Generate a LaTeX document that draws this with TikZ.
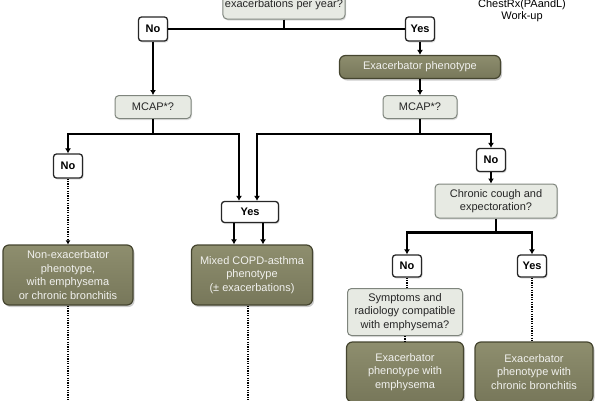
\documentclass[tikz,border=0pt]{standalone}
\usepackage{fontspec}
\setmainfont{Liberation Sans}
\usetikzlibrary{arrows.meta}
\usetikzlibrary{shadows}
\definecolor{olivebox}{HTML}{77775A}
\definecolor{olivetop}{HTML}{8E8E6E}
\definecolor{oliveedge}{HTML}{45452F}
\definecolor{askfill}{HTML}{E7EAE3}
\definecolor{askedge}{HTML}{7F857D}

\begin{document}
\begin{tikzpicture}[x=1pt, y=-1pt,
    every node/.style={font=\fontsize{11}{13.5}\selectfont, align=center, inner sep=2pt},
    ask/.style={draw=askedge, line width=1pt, fill=askfill, rounded corners=4pt, text=black!85,
      drop shadow={opacity=0.25, shadow xshift=1pt, shadow yshift=-1.5pt}},
    reply/.style={draw=black!85, line width=1.3pt, fill=white, rounded corners=3pt,
      font=\fontsize{11}{12}\selectfont\bfseries, minimum width=29pt, minimum height=24pt,
      drop shadow={opacity=0.25, shadow xshift=1pt, shadow yshift=-1.5pt}},
    pheno/.style={draw=oliveedge, line width=1.2pt, top color=olivetop, bottom color=olivebox,
      rounded corners=6pt, text=white!90!olivebox,
      drop shadow={opacity=0.4, shadow xshift=1.5pt, shadow yshift=-2pt}},
    flow/.style={line width=2.4pt, -{Latex[length=5pt,width=6pt]}},
    bar/.style={line width=2.4pt},
    dots/.style={line width=2.6pt, dash pattern=on 1.2pt off 1.2pt}]
  \useasboundingbox (0,0) rectangle (600,400);
  \clip (0,0) rectangle (600,400);

  % first question, cut at the top
  \node[ask, minimum width=122pt, minimum height=34pt] (often) at (284,2) {\mbox{}\\exacerbations per year?};
  \node[font=\fontsize{11}{12}\selectfont] (source) at (522,11) {ChestRx(PAandL)\\Work-up};

  % answers and second questions
  \node[reply] (no1) at (153,29) {No};
  \node[reply] (yes1) at (420,29) {Yes};
  \node[pheno, minimum width=161pt, minimum height=23pt] (exacpheno) at (420,67) {Exacerbator phenotype};
  \node[ask, minimum width=76pt, minimum height=23pt] (mcapL) at (153,107) {MCAP*?};
  \node[ask, minimum width=74pt, minimum height=23pt] (mcapR) at (420,107) {MCAP*?};

  \node[reply] (no2) at (68,166) {No};
  \node[reply, minimum width=57pt, minimum height=21pt] (yes2) at (250,212) {Yes};
  \node[reply, minimum height=23pt] (no3) at (491,160) {No};
  \node[ask, minimum width=122pt, minimum height=34pt] (cough) at (496,201) {Chronic cough and\\expectoration?};
  \node[reply, minimum height=22pt] (no4) at (407,266) {No};
  \node[reply, minimum height=22pt] (yes4) at (532,266) {Yes};
  \node[ask, minimum width=115pt, minimum height=47pt] (emphq) at (405,312) {Symptoms and\\radiology compatible\\with emphysema?};

  % phenotypes
  \node[pheno, minimum width=130pt, minimum height=60pt] (nonexac) at (68,275) {Non-exacerbator\\phenotype,\\with emphysema\\or chronic bronchitis};
  \node[pheno, minimum width=121pt, minimum height=60pt] (mixed) at (252,275) {Mixed COPD-asthma\\phenotype\\(± exacerbations)};
  \node[pheno, minimum width=117pt, minimum height=60pt] (exacemph) at (405,372) {Exacerbator\\phenotype with\\emphysema};
  \node[pheno, minimum width=118pt, minimum height=60pt] (exacbron) at (534,372) {Exacerbator\\phenotype with\\chronic bronchitis};

  % connectors
  \draw[bar] (often.south) -- (often.south |- no1.east);
  \draw[bar] (no1.east) -- (yes1.west);
  \draw[flow] (no1.south) -- (mcapL.north);
  \draw[flow] (yes1.south) -- (exacpheno.north);
  \draw[flow] (exacpheno.south) -- (mcapR.north);

  \coordinate (forkL) at ([yshift=-15pt]mcapL.south);
  \draw[bar] (mcapL.south) -- (forkL);
  \draw[flow] (forkL) -| (no2.north);
  \draw[flow] (forkL) -| ([xshift=-11pt]yes2.north);

  \coordinate (forkR) at ([yshift=-15pt]mcapR.south);
  \draw[bar] (mcapR.south) -- (forkR);
  \draw[flow] (forkR) -| ([xshift=7pt]yes2.north);
  \draw[flow] (forkR) -| (no3.north);

  \draw[flow] ([xshift=-16pt]yes2.south) -- ([xshift=-16pt]yes2.south |- mixed.north);
  \draw[flow] ([xshift=13pt]yes2.south) -- ([xshift=13pt]yes2.south |- mixed.north);

  \draw[flow] (no3.south) -- (no3.south |- cough.north);
  \coordinate (forkC) at ([yshift=-14pt]cough.south);
  \draw[bar] (cough.south) -- (forkC);
  \draw[flow] (forkC) -| (no4.north);
  \draw[flow] (forkC) -| (yes4.north);

  % dotted leads
  \coordinate (offL) at (68,410);
  \coordinate (offM) at (248,410);
  \draw[dots, -{Latex[length=4pt,width=5pt]}] (no2.south) -- (nonexac.north);
  \draw[dots] (nonexac.south) -- (offL);
  \draw[dots] (mixed.south -| offM) -- (offM);
  \draw[dots] (no4.south) -- (no4.south |- emphq.north);
  \draw[dots] (emphq.south) -- (exacemph.north);
  \draw[dots] (yes4.south) -- (yes4.south |- exacbron.north);
\end{tikzpicture}
\end{document}
